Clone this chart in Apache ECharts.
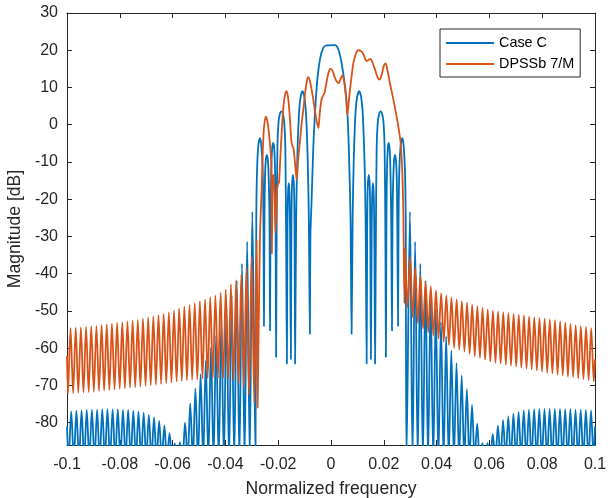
<!DOCTYPE html>
<html>
<head>
<meta charset="utf-8">
<script src="https://cdn.jsdelivr.net/npm/echarts@6/dist/echarts.min.js"></script>
<style>
html,body{margin:0;padding:0;background:#fff;}
#chart{width:616px;height:498px;}
</style>
</head>
<body>
<div id="chart"></div>
<script>
// ---------------- data ----------------
const legendNames = ['Case C', 'DPSSb 7/M'];
const xTicks = [-0.1, -0.08, -0.06, -0.04, -0.02, 0, 0.02, 0.04, 0.06, 0.08, 0.1];
const yTicks = [-80, -70, -60, -50, -40, -30, -20, -10, 0, 10, 20, 30];

// spacing of the dense side-lobe ripple (normalized frequency)
const rippleStep = 0.00196;

// Case C: outer side-lobe peaks (dB), going outwards from the pass band
const caseCLeftStart = -0.0298;
const caseCRightStart = 0.0299;
const caseCLeftPeaks = [-23.4, -31.4, -37.3, -41.8, -45.8, -49.3, -53.0, -56.5, -59.8, -63.3,
  -67.0, -70.8, -74.8, -80.0, -85.3, -85.6, -82.8, -80.8, -79.5, -78.6,
  -77.9, -77.3, -77.0, -76.8, -76.6, -76.5, -76.4, -76.4, -76.4, -76.4,
  -76.5, -76.5, -76.6, -76.7, -76.8, -77.0];
const caseCRightPeaks = [-23.4, -31.4, -37.3, -41.8, -45.8, -49.5, -53.0, -56.8, -60.6, -64.0,
  -67.3, -71.0, -75.2, -80.3, -85.5, -85.5, -83.0, -80.8, -79.3, -78.3,
  -77.6, -77.1, -76.7, -76.5, -76.4, -76.3, -76.3, -76.3, -76.3, -76.3,
  -76.4, -76.4, -76.5, -76.5, -76.6, -76.7];
const caseCNull = -90;          // nulls fall below the visible range
const caseCLeftEdge = -81;
const caseCRightEdge = -81;
// Case C: main lobe and near side lobes [frequency, dB]
const caseCCore = [
  [-0.0286,-90],[-0.0283,-25],[-0.0280,-12],[-0.0275,-5.5],[-0.0269,-3.6],[-0.0264,-5.5],[-0.0259,-11.5],[-0.0256,-25],[-0.0254,-54.1],
  [-0.0252,-25],[-0.0250,-14],[-0.0247,-9.5],[-0.0243,-8.1],[-0.0239,-9.5],[-0.0236,-14],[-0.0233,-25],[-0.0231,-55.3],
  [-0.0229,-25],[-0.0226,-12],[-0.0223,-6.5],[-0.0219,-4.9],[-0.0215,-6.5],[-0.0212,-12],[-0.0210,-25],[-0.0208,-62.4],
  [-0.0206,-30],[-0.0203,-6],[-0.0199,0.5],[-0.0194,2.8],[-0.0188,3.6],[-0.0182,2.8],[-0.0177,0.5],[-0.0173,-6],[-0.0170,-30],[-0.0167,-64.2],
  [-0.0165,-30],[-0.0163,-19],[-0.0160,-15.7],[-0.0157,-19],[-0.0155,-30],[-0.0152,-63],
  [-0.0150,-30],[-0.0148,-17],[-0.0144,-13.5],[-0.0140,-17],[-0.0138,-30],[-0.0136,-64.2],
  [-0.0132,-25],[-0.0128,-10],[-0.0122,2],[-0.0116,7],[-0.0108,9],[-0.0100,7],[-0.0094,2],[-0.0088,-10],[-0.0084,-25],[-0.0080,-56.2],
  [-0.0078,-30],[-0.0073,-19.3],[-0.0068,-8],[-0.0064,-1.3],[-0.0054,10.3],[-0.0042,17.5],[-0.0029,20.7],[-0.0017,21.3],
  [0.0015,21.4],[0.0028,20.2],[0.0040,16.6],[0.0053,10.3],[0.0062,3.2],[0.0066,-3],[0.0069,-10.3],[0.0074,-25],[0.0078,-56.2],
  [0.0082,-25],[0.0086,-10],[0.0092,2],[0.0098,7],[0.0107,9],[0.0115,7],[0.0121,2],[0.0127,-10],[0.0131,-25],[0.0135,-64.2],
  [0.0137,-30],[0.0139,-17],[0.0143,-13.5],[0.0147,-17],[0.0149,-30],[0.0151,-63],
  [0.0154,-30],[0.0156,-19],[0.0159,-15.7],[0.0162,-19],[0.0164,-30],[0.0167,-64.2],
  [0.0170,-30],[0.0173,-6],[0.0177,0.5],[0.0182,2.8],[0.0188,3.6],[0.0194,2.8],[0.0199,0.5],[0.0203,-6],[0.0206,-30],[0.0208,-62.4],
  [0.0210,-25],[0.0212,-12],[0.0215,-6.5],[0.0218,-4.9],[0.0222,-6.5],[0.0225,-12],[0.0228,-25],[0.0231,-55.3],
  [0.0233,-25],[0.0236,-14],[0.0239,-9.5],[0.0242,-8.1],[0.0246,-9.5],[0.0249,-14],[0.0251,-25],[0.0254,-54.1],
  [0.0256,-25],[0.0259,-11.5],[0.0264,-5.5],[0.0270,-3.6],[0.0275,-5.5],[0.0280,-12],[0.0283,-25],[0.0286,-90]
];

// DPSSb 7/M: outer ripple peaks and dips (dB), going outwards
const dpssLeftStart = -0.0281;
const dpssRightStart = 0.0280;
const dpssLeftPeaks = [-31, -35.5, -38.3, -40.3, -41.8, -42.9, -44.2, -45.0, -45.8, -46.3,
  -46.9, -47.4, -47.9, -48.4, -48.8, -49.3, -49.9, -50.4, -50.8, -51.1,
  -51.5, -51.8, -52.1, -52.4, -52.6, -52.8, -53.0, -53.2, -53.4, -53.6,
  -53.8, -54.0, -54.1, -54.3, -54.4, -54.5, -54.6];
const dpssLeftDips = [-74.5, -72.5, -70.5, -69.3, -68.6, -68.2, -68.0, -68.0, -68.0, -68.1,
  -68.2, -68.4, -68.5, -68.6, -68.8, -69.0, -69.2, -69.4, -69.6, -69.8,
  -69.9, -70.1, -70.3, -70.5, -70.6, -70.8, -70.9, -71.1, -71.2, -71.4,
  -71.5, -71.7, -71.8, -71.9, -72.0, -72.1, -72.2];
const dpssRightPeaks = [-33.2, -35.5, -38.3, -40.5, -42.2, -43.4, -44.5, -45.2, -45.8, -46.4,
  -46.9, -47.4, -47.8, -48.3, -48.7, -49.1, -49.6, -49.9, -50.1, -50.3,
  -50.6, -50.8, -51.0, -51.2, -51.5, -51.7, -51.9, -52.1, -52.3, -52.5,
  -52.8, -53.1, -53.5, -53.8, -54.1, -54.3, -54.6];
const dpssRightDips = [-49, -51.7, -53.3, -54.7, -55.7, -56.6, -57.4, -58.3, -59.1, -59.9,
  -60.4, -60.9, -61.5, -62.1, -62.6, -63.1, -63.6, -63.9, -64.1, -64.4,
  -64.7, -64.9, -65.2, -65.5, -65.7, -66.0, -66.3, -66.6, -66.8, -67.1,
  -67.3, -67.6, -67.8, -68.1, -68.3, -68.6, -68.9];
const dpssLeftEdge = -62;
const dpssRightEdge = -63;
// DPSSb 7/M: pass band [frequency, dB]
const dpssCore = [
  [-0.0278,-76],[-0.0274,-55],[-0.0269,-30],[-0.0263,-18],[-0.0256,-3],[-0.0251,1],[-0.0246,2.2],[-0.0240,0.5],
  [-0.0234,-3],[-0.0230,-6],[-0.0226,-11],[-0.0224,-34.6],[-0.0221,-14],[-0.0218,-13.5],[-0.0214,-18],[-0.0210,-29],
  [-0.0205,-18],[-0.0201,-16],[-0.0197,-15.5],[-0.0192,-9],[-0.0186,-1],[-0.0180,5],[-0.0174,8],[-0.0168,9],
  [-0.0162,7],[-0.0156,2],[-0.0150,-4.5],[-0.0146,-5.8],[-0.0142,-6.3],[-0.0136,-10.5],[-0.0130,-14.8],[-0.0124,-9],
  [-0.0117,-4],[-0.0111,0.5],[-0.0105,4],[-0.0098,8.5],[-0.0092,11.5],[-0.0087,12.8],[-0.0080,11.8],[-0.0073,9.3],
  [-0.0067,6.7],[-0.0058,2.5],[-0.0048,-0.9],[-0.0042,3.5],[-0.0036,6.7],[-0.0030,7.8],[-0.0025,8.5],[-0.0018,11],
  [-0.0010,13.8],[-0.0003,15],[0.0005,14.6],[0.0013,13],[0.0021,11.7],[0.0030,11.2],[0.0037,12.5],[0.0043,13.2],
  [0.0049,12],[0.0054,9.5],[0.0058,6.5],[0.0062,2.7],[0.0067,6],[0.0072,9.4],[0.0078,13],[0.0085,16.6],
  [0.0094,19],[0.0104,20],[0.0113,19.8],[0.0123,18.9],[0.0130,17.6],[0.0135,17.1],[0.0142,17.4],[0.0150,17.7],
  [0.0158,16.5],[0.0167,14.8],[0.0176,12.8],[0.0184,12.1],[0.0192,13.5],[0.0200,15.8],[0.0207,16.5],[0.0214,14.5],
  [0.0223,11.2],[0.0239,5.8],[0.0257,-1.3],[0.0264,-5],[0.0269,-11],[0.0273,-20],[0.0275,-30],[0.0278,-48]
];

// ---------------- assemble the two series ----------------
const caseCData = [[-0.1, caseCLeftEdge]];
for (let i = caseCLeftPeaks.length - 1; i >= 0; i--) {
  caseCData.push([caseCLeftStart - (i + 0.5) * rippleStep, caseCNull]);
  caseCData.push([caseCLeftStart - i * rippleStep, caseCLeftPeaks[i]]);
}
caseCCore.forEach(p => caseCData.push(p));
for (let i = 0; i < caseCRightPeaks.length; i++) {
  caseCData.push([caseCRightStart + i * rippleStep, caseCRightPeaks[i]]);
  caseCData.push([caseCRightStart + (i + 0.5) * rippleStep, caseCNull]);
}
caseCData.push([0.1, caseCRightEdge]);

const dpssData = [[-0.1, dpssLeftEdge]];
for (let i = dpssLeftPeaks.length - 1; i >= 0; i--) {
  dpssData.push([dpssLeftStart - (i + 0.5) * rippleStep, dpssLeftDips[i]]);
  dpssData.push([dpssLeftStart - i * rippleStep, dpssLeftPeaks[i]]);
}
dpssCore.forEach(p => dpssData.push(p));
for (let i = 0; i < dpssRightPeaks.length; i++) {
  dpssData.push([dpssRightStart + i * rippleStep, dpssRightPeaks[i]]);
  dpssData.push([dpssRightStart + (i + 0.5) * rippleStep, dpssRightDips[i]]);
}
dpssData.push([0.1, dpssRightEdge]);

// ---------------- chart ----------------
const FONT = "'Liberation Sans', Arial, Helvetica, sans-serif";
const AX = '#262626';
const chart = echarts.init(document.getElementById('chart'), null, {renderer: 'canvas'});

function fmtX(v) { return String(parseFloat(Number(v).toFixed(2))); }

const baseX = {
  type: 'value', min: -0.1, max: 0.1, interval: 0.02,
  axisLine: {show: true, onZero: false, lineStyle: {color: AX, width: 1}},
  axisTick: {show: true, inside: true, length: 5, lineStyle: {color: AX, width: 1}},
  splitLine: {show: false}
};
const baseY = {
  type: 'value', min: -86, max: 30,
  axisLine: {show: true, onZero: false, lineStyle: {color: AX, width: 1}},
  axisTick: {show: true, inside: true, length: 5, customValues: yTicks, lineStyle: {color: AX, width: 1}},
  splitLine: {show: false}
};

chart.setOption({
  animation: false,
  backgroundColor: '#fff',
  grid: {left: 67, right: 21, top: 13, bottom: 53, containLabel: false, outerBoundsMode: 'none'},
  legend: {
    data: legendNames, orient: 'vertical', left: 440, top: 29,
    icon: 'rect', itemWidth: 48, itemHeight: 2, itemGap: 5,
    padding: [6, 6, 5, 6], borderColor: AX, borderWidth: 1, backgroundColor: '#fff',
    selectedMode: false,
    textStyle: {fontSize: 14.4, color: '#000', fontFamily: FONT, lineHeight: 16}
  },
  xAxis: [
    Object.assign({}, baseX, {
      position: 'bottom',
      axisLabel: {show: true, color: AX, fontSize: 16, fontFamily: FONT, margin: 12,
        customValues: xTicks, formatter: fmtX},
      name: 'Normalized frequency', nameLocation: 'middle', nameGap: 35,
      nameTextStyle: {fontSize: 17.6, color: AX, fontFamily: FONT}
    }),
    Object.assign({}, baseX, {position: 'top', axisLabel: {show: false}})
  ],
  yAxis: [
    Object.assign({}, baseY, {
      position: 'left',
      axisLabel: {show: true, color: AX, fontSize: 16, fontFamily: FONT, margin: 9, customValues: yTicks},
      name: 'Magnitude [dB]', nameLocation: 'middle', nameGap: 33,
      nameTextStyle: {fontSize: 17.6, color: AX, fontFamily: FONT}
    }),
    Object.assign({}, baseY, {position: 'right', axisLabel: {show: false}})
  ],
  series: [
    {
      name: legendNames[0], type: 'line', data: caseCData, xAxisIndex: 0, yAxisIndex: 0,
      showSymbol: false, symbol: 'none', smooth: 0.3, clip: true, z: 2,
      itemStyle: {color: '#0072BD'}, lineStyle: {color: '#0072BD', width: 1.8}
    },
    {
      name: legendNames[1], type: 'line', data: dpssData, xAxisIndex: 0, yAxisIndex: 0,
      showSymbol: false, symbol: 'none', smooth: 0.3, clip: true, z: 3,
      itemStyle: {color: '#D95319'}, lineStyle: {color: '#D95319', width: 1.8}
    }
  ]
});
</script>
</body>
</html>
